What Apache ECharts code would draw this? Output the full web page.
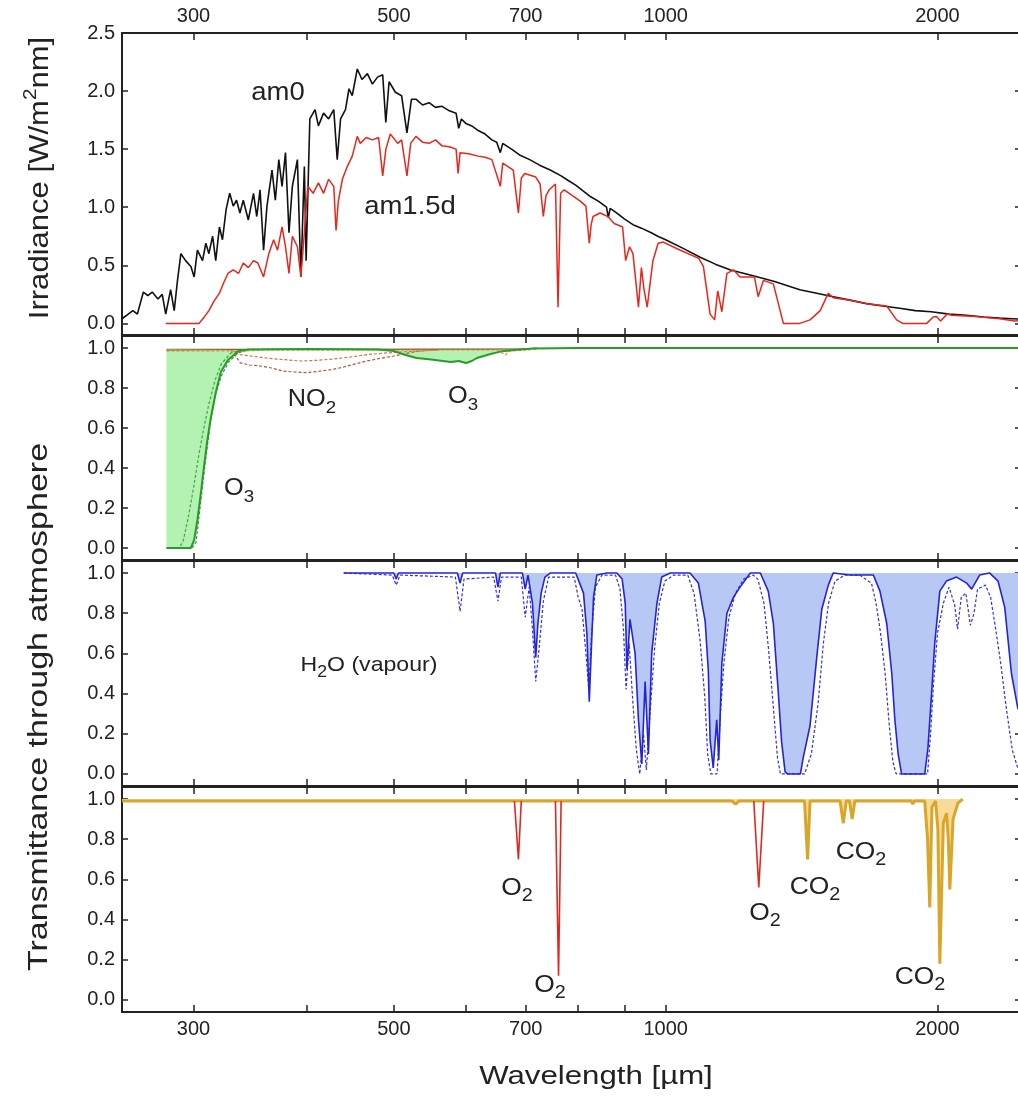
<!DOCTYPE html>
<html>
<head>
<meta charset="utf-8">
<title>Solar irradiance and atmospheric transmittance</title>
<script src="https://cdn.jsdelivr.net/npm/echarts@6/dist/echarts.min.js"></script>
<style>
  html, body { margin: 0; padding: 0; background: #fff; }
  #chart { width: 1018px; height: 1103px; }
</style>
</head>
<body>
<div id="chart"></div>
<script>
// axis ticks (wavelength in nm, log scale)
const xTicks = [300, 400, 500, 600, 700, 800, 900, 1000, 2000]
const xLabels = [300, 500, 700, 1000, 2000]
const irrTicks = [0, 0.5, 1, 1.5, 2, 2.5]
const transTicks = [0, 0.2, 0.4, 0.6, 0.8, 1]

// irradiance [wavelength, W/m2/nm]
const am0 = [[250,0.04],[254,0.08],[257,0.11],[260,0.08],[264,0.27],[267,0.24],[270,0.27],[274,0.21],[277,0.25],[279.5,0.08],[283,0.29],[285.6,0.11],[288,0.37],[290.5,0.6],[294,0.54],[298,0.49],[300.5,0.4],[303,0.63],[307,0.54],[309.6,0.69],[312,0.6],[315,0.75],[317.5,0.54],[320.5,0.83],[323,0.72],[326,0.98],[329,1.12],[332,1.01],[334.8,1.06],[337.7,0.95],[340.6,1.06],[345,0.89],[349.6,1.12],[352.5,0.92],[355.5,1.15],[358.7,0.63],[361.8,1.01],[366.5,1.32],[369.6,1.06],[372.9,1.41],[376,1.18],[379.3,1.47],[382.7,0.78],[386,1.18],[391,1.41],[394.5,0.4],[398,1.35],[399.8,0.54],[403.6,1.76],[409,1.84],[412.5,1.7],[418,1.81],[423.4,1.76],[429,1.84],[432.8,1.41],[436.5,1.76],[442,1.84],[446,2.02],[449.7,1.96],[455.5,2.19],[461,2.1],[467.4,2.15],[473.4,2.06],[479.6,2.12],[486,2.14],[489.9,1.73],[494,2.08],[502,1.99],[510,1.96],[517,1.64],[523,1.93],[529,1.93],[538,1.88],[547,1.9],[556,1.86],[565,1.87],[576,1.83],[586,1.81],[590,1.68],[594,1.76],[601,1.72],[610,1.7],[620,1.66],[631,1.63],[642,1.58],[650,1.56],[656,1.47],[660,1.55],[675,1.5],[689,1.45],[707,1.41],[726,1.36],[745,1.32],[766,1.27],[780,1.23],[795,1.19],[810,1.14],[826,1.09],[843,1.05],[860,1.0],[864,0.91],[868,0.99],[883,0.95],[900,0.9],[920,0.85],[940,0.82],[964,0.78],[980,0.75],[1000,0.72],[1043,0.65],[1092,0.57],[1135,0.51],[1180,0.46],[1250,0.41],[1320,0.36],[1408,0.29],[1470,0.26],[1533,0.23],[1600,0.2],[1669,0.17],[1740,0.15],[1816,0.13],[1890,0.11],[1968,0.1],[2060,0.08],[2153,0.07],[2250,0.055],[2343,0.045],[2420,0.04],[2500,0.035]]
const am15d = [[279.5,0],[304.3,0],[308,0.05],[312,0.11],[316,0.19],[320.5,0.26],[324,0.35],[327.5,0.43],[332,0.46],[336.5,0.43],[340.6,0.52],[345,0.48],[349.6,0.54],[353.5,0.52],[358.7,0.4],[363.5,0.6],[368,0.72],[371.7,0.63],[376,0.83],[379.3,0.66],[382.7,0.43],[386,0.75],[391,0.66],[394.5,0.4],[398,0.78],[401.5,1.18],[407,1.12],[412.5,1.21],[418,1.12],[423.4,1.24],[429,1.18],[431.5,0.8],[434,1.05],[438.5,1.24],[444,1.35],[449.7,1.44],[455.5,1.61],[459,1.55],[466,1.6],[473.4,1.58],[481,1.6],[486,1.27],[490,1.5],[495.5,1.63],[505,1.55],[510,1.58],[517,1.27],[522,1.55],[529,1.61],[538,1.56],[547,1.55],[556,1.58],[565,1.53],[576,1.52],[586,1.5],[589,1.29],[592,1.47],[605,1.46],[620,1.44],[631,1.43],[642,1.41],[656,1.18],[660,1.38],[678,1.32],[687,0.95],[692,1.25],[698,1.29],[718,1.26],[726,1.2],[732,0.92],[737,1.1],[743,1.15],[755,1.2],[760,0.14],[765,1.12],[772,1.15],[792,1.09],[805,1.05],[816,1.01],[823,0.69],[827,0.85],[831,0.92],[846,0.95],[863,0.92],[877,0.86],[896,0.83],[903,0.54],[912,0.66],[920,0.6],[933,0.14],[940,0.48],[946,0.3],[954,0.14],[968,0.54],[981,0.69],[994,0.7],[1031,0.64],[1088,0.56],[1101,0.49],[1120,0.08],[1133,0.03],[1142,0.28],[1154,0.1],[1169,0.43],[1189,0.46],[1209,0.4],[1254,0.4],[1266,0.23],[1283,0.37],[1316,0.34],[1350,0],[1408,0],[1445,0.03],[1483,0.11],[1514,0.26],[1533,0.22],[1600,0.2],[1669,0.17],[1757,0.15],[1802,0.03],[1830,0],[1946,0],[1978,0.055],[1995,0.06],[2016,0.02],[2050,0.08],[2074,0.07],[2200,0.06],[2343,0.04],[2435,0.02],[2500,0.03]]

// transmittance: ozone and NO2 [wavelength, T]
const o3 = [[280,0],[298,0],[300.5,0.04],[303,0.14],[305.6,0.27],[308,0.4],[310.6,0.53],[313.5,0.65],[317.6,0.78],[321.7,0.88],[327.5,0.94],[336.5,0.985],[345,0.993],[400,0.995],[480,0.993],[500,0.985],[515,0.965],[530,0.95],[550,0.942],[578,0.93],[590,0.935],[601,0.925],[610,0.935],[618,0.95],[640,0.97],[656,0.982],[680,0.99],[713,0.997],[800,1],[2500,1]]
const o3High = [[280,0],[289,0],[292,0.03],[296,0.15],[300,0.3],[304,0.46],[308,0.6],[312,0.72],[317,0.84],[322,0.92],[330,0.975],[340,0.993]]
const o3Low = [[299,0],[302,0.03],[305,0.2],[309,0.42],[313,0.62],[317,0.76],[322,0.86],[328,0.93],[336,0.975],[345,0.99]]
const no2High = [[330,0.99],[334,0.96],[338,0.926],[346,0.915],[356,0.91],[366,0.9],[377,0.885],[388,0.88],[400,0.877],[414,0.884],[429,0.894],[440,0.905],[451,0.918],[467,0.935],[483,0.948],[500,0.96],[515,0.972],[531,0.984],[560,0.99]]
const no2Low = [[330,0.99],[334,0.975],[338,0.967],[350,0.958],[361,0.95],[377,0.942],[394,0.935],[410,0.938],[429,0.945],[448,0.955],[467,0.967],[487,0.974],[508,0.98],[535,0.986],[560,0.99]]
const traceGas = [[280,0.985],[340,0.985],[360,0.99],[500,0.99],[650,0.99],[665,0.965],[670,0.985],[700,0.99],[720,0.995]]
const aerosol = [[280,0.99],[330,0.992],[700,0.995],[720,1]]

// transmittance: water vapour
const h2o = [[440,1],[500,1],[503,0.97],[506,1],[588,1],[592,0.95],[596,1],[648,1],[652,0.93],[656,1],[694,1],[699,0.92],[704,0.99],[712,0.85],[718,0.58],[722,0.75],[728,0.9],[735,0.98],[745,1],[795,1],[803,0.95],[811,0.9],[818,0.7],[823,0.36],[827,0.6],[832,0.88],[839,0.99],[861,1],[883,1],[895,0.97],[902,0.85],[906,0.52],[913,0.77],[925,0.6],[933,0.27],[941,0.05],[949,0.46],[957,0.1],[965,0.6],[978,0.85],[990,0.98],[1012,1],[1064,1],[1087,0.95],[1106,0.76],[1115,0.51],[1120,0.17],[1129,0.03],[1139,0.27],[1145,0.07],[1154,0.55],[1169,0.8],[1189,0.88],[1209,0.93],[1241,1],[1273,1],[1299,0.91],[1316,0.75],[1332,0.42],[1344,0.16],[1356,0.01],[1365,0],[1410,0],[1420,0.08],[1445,0.24],[1470,0.58],[1489,0.82],[1514,0.94],[1533,1],[1600,0.99],[1698,0.99],[1727,0.91],[1757,0.75],[1780,0.5],[1794,0.27],[1809,0.1],[1825,0],[1936,0],[1952,0.13],[1970,0.4],[1986,0.65],[2012,0.91],[2046,0.96],[2100,0.98],[2154,0.95],[2182,0.92],[2227,0.99],[2285,1],[2334,0.96],[2374,0.83],[2415,0.5],[2454,0.33],[2500,0.25]]
const h2oWet = [[440,1],[498,0.99],[503,0.94],[508,0.99],[585,0.98],[592,0.81],[598,0.97],[645,0.98],[652,0.86],[658,0.98],[692,0.98],[699,0.78],[706,0.93],[712,0.72],[718,0.46],[724,0.62],[732,0.86],[742,0.98],[792,0.98],[800,0.88],[808,0.82],[816,0.6],[822,0.42],[828,0.7],[836,0.93],[850,0.99],[880,0.99],[890,0.92],[898,0.72],[904,0.42],[911,0.65],[920,0.35],[928,0.12],[936,0],[945,0.2],[952,0.02],[961,0.3],[972,0.62],[984,0.85],[998,0.96],[1020,0.99],[1058,0.99],[1075,0.9],[1092,0.66],[1105,0.38],[1113,0.1],[1122,0],[1140,0],[1150,0.3],[1160,0.55],[1175,0.78],[1195,0.9],[1220,0.97],[1250,0.99],[1265,0.97],[1285,0.85],[1300,0.62],[1315,0.35],[1330,0.08],[1340,0],[1425,0],[1450,0.1],[1475,0.35],[1495,0.65],[1515,0.85],[1540,0.96],[1580,0.99],[1640,0.99],[1690,0.95],[1710,0.85],[1730,0.7],[1750,0.5],[1768,0.25],[1785,0.06],[1800,0],[1950,0],[1965,0.2],[1980,0.45],[2000,0.7],[2030,0.85],[2060,0.93],[2090,0.84],[2105,0.72],[2125,0.88],[2150,0.9],[2175,0.74],[2195,0.8],[2215,0.92],[2260,0.94],[2290,0.88],[2320,0.72],[2350,0.55],[2380,0.35],[2420,0.12],[2454,0.03]]

// transmittance: O2 and CO2
const co2 = [[250,0.99],[1185,0.99],[1195,0.975],[1205,0.99],[1425,0.99],[1436,0.7],[1445,0.99],[1560,0.99],[1573,0.88],[1585,0.99],[1598,0.99],[1609,0.9],[1620,0.99],[1870,0.99],[1878,0.975],[1886,0.99],[1936,0.99],[1950,0.8],[1961,0.46],[1972,0.96],[1990,0.99],[2002,0.85],[2012,0.18],[2030,0.88],[2047,0.93],[2056,0.8],[2064,0.55],[2081,0.9],[2107,0.98],[2133,1]]
const o2Bands = [
  [[680,0.99],[687,0.7],[692,0.99]],
  [[755,0.99],[761,0.12],[766,0.99]],
  [[1252,0.99],[1268,0.56],[1284,0.99]]
]

const fontFamily = '"Liberation Sans", Arial, sans-serif'
const ink = '#222'

function richStyle (size) {
  return {
    m: { fontSize: size, fontFamily, fill: ink, color: ink, lineHeight: size + 10, verticalAlign: 'middle' },
    s: { fontSize: Math.round(size * 0.74), fontFamily, fill: ink, color: ink, verticalAlign: 'bottom' },
    p: { fontSize: Math.round(size * 0.68), fontFamily, fill: ink, color: ink, verticalAlign: 'top' }
  }
}

// [text, x, y, fontSize]
const annotations = [
  ['{m|am0}', 278, 93, 25],
  ['{m|am1.5d}', 410, 207, 25],
  ['{m|NO}{s|2}', 312, 400, 23],
  ['{m|O}{s|3}', 463, 397, 23],
  ['{m|O}{s|3}', 239, 489, 23],
  ['{m|H}{s|2}{m|O (vapour)}', 369, 665, 21],
  ['{m|O}{s|2}', 517, 888, 24],
  ['{m|O}{s|2}', 550, 985, 24],
  ['{m|O}{s|2}', 765, 913, 24],
  ['{m|CO}{s|2}', 815, 887, 24],
  ['{m|CO}{s|2}', 861, 852, 24],
  ['{m|CO}{s|2}', 920, 977, 24]
]

const grids = [
  { left: 122, right: -7, top: 33, height: 302 },
  { left: 122, right: -7, top: 336, height: 224 },
  { left: 122, right: -7, top: 561, height: 225 },
  { left: 122, right: -7, top: 787, height: 225 }
].map(g => Object.assign({ outerBoundsMode: 'none' }, g))

function xAxisFor (grid, position, labels) {
  return {
    type: 'log', logBase: 10, gridIndex: grid, position, min: 250, max: 2500,
    axisLine: { show: true, onZero: false, lineStyle: { color: ink, width: 2 } },
    axisTick: { show: true, inside: true, length: 7, customValues: xTicks, lineStyle: { color: ink, width: 1.5 } },
    axisLabel: {
      show: labels, customValues: xLabels, margin: 7, fontSize: 20, fontFamily, color: ink,
      formatter: v => String(Math.round(v))
    },
    splitLine: { show: false }, minorTick: { show: false }
  }
}

function yAxisFor (grid, position, min, max, ticks) {
  return {
    type: 'value', gridIndex: grid, position, min, max,
    axisLine: { show: true, onZero: false, lineStyle: { color: ink, width: 2 } },
    axisTick: { show: true, inside: true, length: position === 'left' ? 6 : 10, customValues: ticks, lineStyle: { color: ink, width: 1.5 } },
    axisLabel: {
      show: position === 'left', customValues: ticks, margin: 7, fontSize: 20, fontFamily, color: ink,
      formatter: v => v.toFixed(1)
    },
    splitLine: { show: false }
  }
}

const xAxes = []
const yAxes = []
for (let i = 0; i < 4; i++) {
  xAxes.push(xAxisFor(i, 'bottom', i === 3))
  xAxes.push(xAxisFor(i, 'top', i === 0))
  const lo = i === 0 ? -0.1 : -0.06
  const hi = i === 0 ? 2.5 : 1.06
  const ticks = i === 0 ? irrTicks : transTicks
  yAxes.push(yAxisFor(i, 'left', lo, hi, ticks))
  yAxes.push(yAxisFor(i, 'right', lo, hi, ticks))
}

function lineSeries (panel, data, color, width, dashed, z) {
  return {
    type: 'line', xAxisIndex: panel * 2, yAxisIndex: panel * 2, data,
    symbol: 'none', silent: true, z: z || 3,
    lineStyle: { color, width, type: dashed ? [3, 2] : 'solid' }
  }
}

// light fill between an absorption curve and T = 1, placed through the axes
function fillToOne (panel, data, fill) {
  const first = data[0][0]
  const last = data[data.length - 1][0]
  return {
    type: 'custom', coordinateSystem: 'cartesian2d', xAxisIndex: panel * 2, yAxisIndex: panel * 2,
    data: [[first, 1]], silent: true, z: 1, clip: true,
    renderItem: (params, api) => {
      const pts = data.map(p => api.coord(p))
      pts.push(api.coord([last, 1]))
      pts.push(api.coord([first, 1]))
      return { type: 'polygon', shape: { points: pts }, style: { fill } }
    }
  }
}

const series = [
  lineSeries(0, am0, '#111111', 1.6),
  lineSeries(0, am15d, '#e8261c', 1.5),

  fillToOne(1, o3, '#b4f2b4'),
  lineSeries(1, o3High, '#3aa83a', 1.2, true),
  lineSeries(1, o3Low, '#2a9a2a', 1.2, true),
  lineSeries(1, no2High, '#b5563c', 1.2, true),
  lineSeries(1, no2Low, '#c9764a', 1.2, true),
  lineSeries(1, traceGas, '#e8a050', 1.4, true),
  lineSeries(1, aerosol, '#a8402a', 1),
  lineSeries(1, o3, '#2a9a2a', 2, false, 4),

  fillToOne(2, h2o, '#b8c8f4'),
  lineSeries(2, h2oWet, '#3030e0', 1.2, true),
  lineSeries(2, h2o, '#2424d6', 1.6, false, 4),

  fillToOne(3, co2, '#f6dc98'),
  lineSeries(3, co2, '#d9a62a', 3, false, 4),
  ...o2Bands.map(b => lineSeries(3, b, '#e0281e', 1.6, false, 5))
]

const graphic = annotations.map(([text, x, y, size]) => ({
  type: 'text', x, y, scaleX: 1.1, silent: true,
  style: { text, rich: richStyle(size), align: 'center', verticalAlign: 'middle' }
}))
graphic.push(
  {
    type: 'text', x: 41, y: 178, rotation: Math.PI / 2, scaleX: 1.15, silent: true,
    style: { text: '{m|Irradiance [W/m}{p|2}{m|nm]}', rich: richStyle(27), align: 'center', verticalAlign: 'middle' }
  },
  {
    type: 'text', x: 40, y: 707, rotation: Math.PI / 2, scaleX: 1.26, silent: true,
    style: { text: '{m|Transmittance through atmosphere}', rich: richStyle(27), align: 'center', verticalAlign: 'middle' }
  },
  {
    type: 'text', x: 596, y: 1077, scaleX: 1.2, silent: true,
    style: { text: '{m|Wavelength [µm]}', rich: richStyle(26), align: 'center', verticalAlign: 'middle' }
  }
)

const chart = echarts.init(document.getElementById('chart'), null, { renderer: 'canvas' })
chart.setOption({
  animation: false,
  backgroundColor: '#ffffff',
  grid: grids,
  xAxis: xAxes,
  yAxis: yAxes,
  series,
  graphic
})
window.onresize = () => {
  chart.resize()
}
</script>
</body>
</html>
